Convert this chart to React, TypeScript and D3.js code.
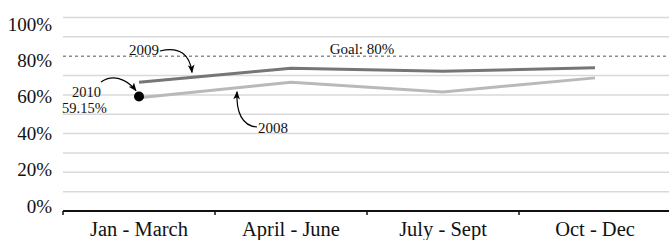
import * as d3 from 'd3';

const quarters = ['Jan - March', 'April - June', 'July - Sept', 'Oct - Dec'];
const series2009 = [66.5, 73.8, 72.2, 74];
const series2008 = [58.5, 66.5, 61.5, 68.8];
const point2010 = { quarter: 'Jan - March', value: 59.15 };
const goal = 80;
const yTicks = [0, 20, 40, 60, 80, 100];
const gridValues = [10, 20, 30, 40, 50, 60, 70, 90, 100];

const W = 669;
const H = 240;
const LEFT = 63;
const FONT = '"Liberation Serif", "DejaVu Serif", serif';

export default function App() {
  const x = d3.scaleBand<string>().domain(quarters).range([LEFT, 671]).padding(0);
  const y = d3.scaleLinear().domain([0, 100]).range([211, 17.5]);
  // the value labels sit a little tighter than the gridlines
  const yLabel = d3.scaleLinear().domain([0, 100]).range([206, 24]);
  const cx = (q: string) => (x(q) ?? 0) + x.bandwidth() / 2;

  const line = d3
    .line<number>()
    .x((_, i) => cx(quarters[i]))
    .y((d) => y(d));

  const px = cx(point2010.quarter);
  const py = y(point2010.value);

  // where the lines are under their label arrows
  const x08 = 237;
  const y08 = y(series2008[0] + ((series2008[1] - series2008[0]) * (x08 - cx(quarters[0]))) / x.bandwidth());
  const x09 = 192;
  const y09 = y(series2009[0] + ((series2009[1] - series2009[0]) * (x09 - cx(quarters[0]))) / x.bandwidth());

  return (
    <svg
      width={W}
      height={H}
      style={{ position: 'absolute', left: 0, top: 0, background: '#fff' }}
      fontFamily={FONT}
    >
      <defs>
        <marker id="ah" viewBox="0 0 10 10" refX="9" refY="5" markerWidth="7" markerHeight="7" orient="auto">
          <path d="M0,1 L10,5 L0,9 L2.5,5 Z" fill="#000" />
        </marker>
      </defs>

      {gridValues.map((v) => (
        <line key={v} x1={LEFT} x2={W} y1={y(v)} y2={y(v)} stroke="#d9d9d9" strokeWidth={1.5} />
      ))}
      <line x1={LEFT} x2={W} y1={y(goal)} y2={y(goal)} stroke="#8c8c8c" strokeWidth={1.5} strokeDasharray="3,3" />
      <text x={362} y={y(goal) - 2.5} fontSize={15} textAnchor="middle" fill="#111">
        Goal: 80%
      </text>

      {yTicks.map((v) => (
        <text key={v} x={52} y={yLabel(v)} dy="0.35em" fontSize={19} textAnchor="end" fill="#111">
          {v}%
        </text>
      ))}

      <line x1={LEFT} x2={W} y1={y(0)} y2={y(0)} stroke="#111" strokeWidth={2} />
      {quarters.map((q) => (
        <line key={q} x1={x(q)} x2={x(q)} y1={y(0)} y2={y(0) + 4} stroke="#111" strokeWidth={1.5} />
      ))}
      {quarters.map((q) => (
        <text key={q} x={cx(q)} y={236} fontSize={20.5} textAnchor="middle" fill="#111">
          {q}
        </text>
      ))}

      <path d={line(series2008) ?? ''} fill="none" stroke="#b9b9b9" strokeWidth={3} />
      <path d={line(series2009) ?? ''} fill="none" stroke="#767676" strokeWidth={3} />
      <circle cx={px} cy={py} r={5} fill="#000" />

      {/* 2009 label */}
      <text x={129} y={55} fontSize={15} fill="#111">2009</text>
      <path
        d={`M160,51 C180,46 190,55 ${x09},${y09 - 5}`}
        fill="none"
        stroke="#000"
        strokeWidth={1.2}
        markerEnd="url(#ah)"
      />

      {/* 2010 label */}
      <text x={72} y={97} fontSize={14.5} fill="#111">2010</text>
      <text x={62} y={113} fontSize={14.5} fill="#111">59.15%</text>
      <path
        d={`M101,82 C112,74 126,78 ${px - 3},${py - 6}`}
        fill="none"
        stroke="#000"
        strokeWidth={1.2}
        markerEnd="url(#ah)"
      />

      {/* 2008 label */}
      <text x={258} y={133} fontSize={15} fill="#111">2008</text>
      <path
        d={`M257,127 C242,126 236,112 ${x08},${y08 + 4}`}
        fill="none"
        stroke="#000"
        strokeWidth={1.2}
        markerEnd="url(#ah)"
      />
    </svg>
  );
}
